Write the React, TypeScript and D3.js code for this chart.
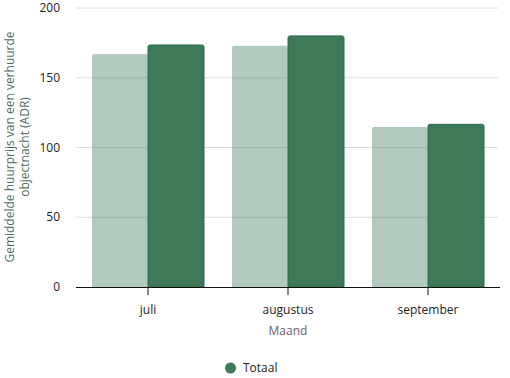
import React from "react";
import * as d3 from "d3";

const categories = ["juli", "augustus", "september"];
const vorigeWaarden = [167, 173, 114.7];
const totaalWaarden = [173.5, 180, 116.6];
const yTicks = [0, 50, 100, 150, 200];
const yTitleLines = ["Gemiddelde huurprijs van een verhuurde", "objectnacht (ADR)"];
const xTitle = "Maand";
const legendLabel = "Totaal";

const W = 510;
const H = 378;
const FONT = "'Open Sans', 'Noto Sans', sans-serif";

export default function App() {
  const x = d3.scaleBand<string>().domain(categories).range([78, 498]).paddingInner(0.2).paddingOuter(0.1);
  const band = d3.scaleBand<string>().domain(categories).range([78, 498]);
  const y = d3.scaleLinear().domain([0, 200]).range([287, 8]);
  const bw = x.bandwidth() / 2;
  const r = 2;
  const topRounded = (x0: number, y0: number, w: number, h: number) => {
    const p = d3.path();
    p.moveTo(x0, y0 + h);
    p.lineTo(x0, y0 + r);
    p.quadraticCurveTo(x0, y0, x0 + r, y0);
    p.lineTo(x0 + w - r, y0);
    p.quadraticCurveTo(x0 + w, y0, x0 + w, y0 + r);
    p.lineTo(x0 + w, y0 + h);
    p.closePath();
    return p.toString();
  };
  return (
    <svg width={W} height={H} style={{ position: "absolute", left: 0, top: 0 }} fontFamily={FONT}>
      <rect width={W} height={H} fill="#fff" />
      {yTicks.map((t) => (
        <g key={t}>
          {t > 0 && <line x1={76} x2={498} y1={y(t)} y2={y(t)} stroke="#dcdcdc" strokeWidth={1} />}
          <text x={60} y={y(t)} dy="0.35em" textAnchor="end" fontSize={12} fill="#222">{t}</text>
        </g>
      ))}
      {categories.map((c, i) => (
        <g key={c}>
          <path
            d={topRounded(x(c)!, y(vorigeWaarden[i]), bw, y(0) - y(vorigeWaarden[i]))}
            fill="#3e7959"
            fillOpacity={0.4}
          />
          <path
            d={topRounded(x(c)! + bw, y(totaalWaarden[i]), bw, y(0) - y(totaalWaarden[i]))}
            fill="#3e7959"
            stroke="#2d6a49"
            strokeWidth={1}
          />
        </g>
      ))}
      <line x1={76} x2={500} y1={y(0) + 0.5} y2={y(0) + 0.5} stroke="#111" strokeWidth={1.2} />
      {categories.map((c) => {
        const cx = band(c)! + band.bandwidth() / 2;
        return (
          <g key={c}>
            <line x1={cx} x2={cx} y1={287} y2={295} stroke="#111" strokeWidth={1} />
            <text x={cx} y={310} dy="0.35em" textAnchor="middle" fontSize={12} fill="#222">{c}</text>
          </g>
        );
      })}
      <text x={288} y={331} dy="0.35em" textAnchor="middle" fontSize={12} fill="#6b5a74">{xTitle}</text>
      <g transform="translate(17,147) rotate(-90)">
        {yTitleLines.map((l, i) => (
          <text key={i} x={0} y={(i - 0.5) * 15} dy="0.35em" textAnchor="middle" fontSize={12} fill="#4e6b5c">{l}</text>
        ))}
      </g>
      <circle cx={230.5} cy={368} r={5.5} fill="#3e7959" />
      <text x={243} y={368} dy="0.35em" fontSize={12} fill="#222">{legendLabel}</text>
    </svg>
  );
}
